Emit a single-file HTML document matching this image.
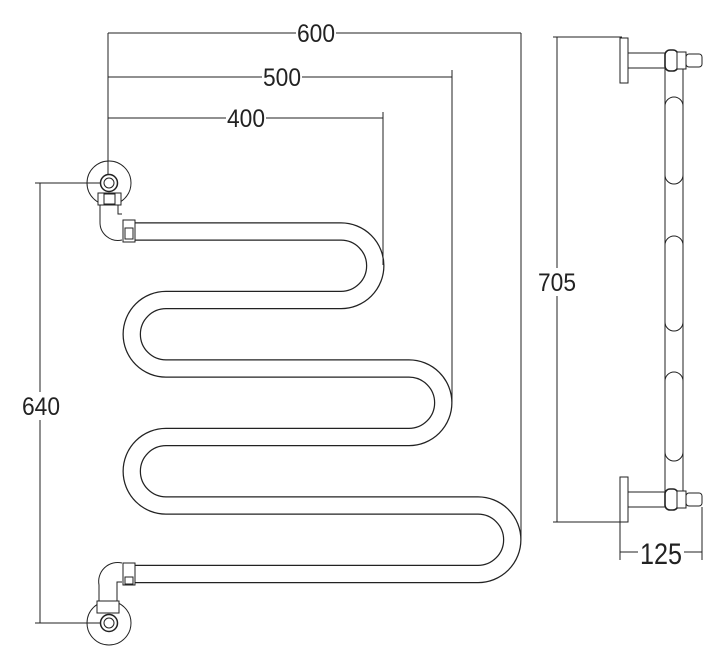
<!DOCTYPE html>
<html><head><meta charset="utf-8"><style>
html,body{margin:0;padding:0;background:#fff;}
svg{display:block;}
text{font-family:"Liberation Sans Narrow","Liberation Sans",sans-serif;fill:#222;}
</style></head><body>
<svg width="727" height="672" viewBox="0 0 727 672" xmlns="http://www.w3.org/2000/svg">
<g fill="none" stroke="#222" stroke-width="1">
<path d="M135,231.5 H341 A34.25,34.25 0 0 1 341,300 H166 A34.25,34.25 0 0 0 166,368.5 H409 A34.25,34.25 0 0 1 409,437 H166 A34.25,34.25 0 0 0 166,505.5 H478 A34.25,34.25 0 0 1 478,574 H135" stroke-width="18.5" stroke="#222"/>
<path d="M135,231.5 H341 A34.25,34.25 0 0 1 341,300 H166 A34.25,34.25 0 0 0 166,368.5 H409 A34.25,34.25 0 0 1 409,437 H166 A34.25,34.25 0 0 0 166,505.5 H478 A34.25,34.25 0 0 1 478,574 H135" stroke-width="16" stroke="#fff"/>

<line x1="108" y1="33" x2="521" y2="33"/>
<line x1="108" y1="33" x2="108" y2="183"/>
<line x1="521" y1="33" x2="521" y2="540"/>
<line x1="108" y1="77" x2="452" y2="77"/>
<line x1="452" y1="70" x2="452" y2="402"/>
<line x1="108" y1="118" x2="383" y2="118"/>
<line x1="383" y1="112" x2="383" y2="265"/>
<line x1="40" y1="183" x2="40" y2="623"/>
<line x1="35" y1="183" x2="109" y2="183"/>
<line x1="35" y1="623" x2="109" y2="623"/>
<line x1="557" y1="37" x2="557" y2="522"/>
<line x1="553" y1="37" x2="622" y2="37"/>
<line x1="553" y1="522" x2="622" y2="522"/>
<line x1="620" y1="522" x2="620" y2="560"/>
<line x1="702" y1="507" x2="702" y2="560"/>
<line x1="620" y1="552" x2="702" y2="552"/>

<circle cx="109" cy="183" r="22" fill="none"/>
<path d="M100,205 V222 A18,18 0 0 0 122,240 M118,205 V214 H122" />
<rect x="98" y="193" width="23" height="12" fill="#fff"/>
<rect x="104" y="194" width="11" height="10"/>
<circle cx="109" cy="183" r="8.5" fill="#fff" stroke-width="1.5"/>
<circle cx="109" cy="183" r="5"/>
<rect x="123" y="220" width="12" height="22" fill="#fff"/>
<rect x="125" y="228" width="8" height="11"/>

<circle cx="109" cy="623" r="22"/>
<path d="M99,601 V585 A19,19 0 0 1 122,563 M117,601 V582 H122"/>
<rect x="97" y="601" width="22" height="12" fill="#fff"/>
<circle cx="109" cy="623" r="8.5" fill="#fff" stroke-width="1.5"/>
<circle cx="109" cy="623" r="5"/>
<rect x="123" y="563" width="12" height="22" fill="#fff"/>
<rect x="125" y="577" width="8" height="7"/>

<line x1="665" y1="55" x2="665" y2="505"/>
<line x1="683" y1="55" x2="683" y2="505"/>
<path d="M665,106 A9,9 0 0 1 683,106 M665,175 A9,9 0 0 0 683,175"/>
<path d="M665,245 A9,9 0 0 1 683,245 M665,322 A9,9 0 0 0 683,322"/>
<path d="M665,381 A9,9 0 0 1 683,381 M665,452 A9,9 0 0 0 683,452"/>
<rect x="620" y="38" width="8" height="45" fill="#fff"/>
<rect x="628" y="53" width="40" height="15" fill="#fff"/>
<rect x="665" y="50" width="13" height="21" rx="5" fill="#fff" stroke-width="1.6"/>
<rect x="677" y="52" width="9" height="17" fill="#fff"/>
<rect x="686" y="54" width="16" height="13" rx="3" fill="#fff"/>
<rect x="620" y="477" width="8" height="45" fill="#fff"/>
<rect x="628" y="492" width="40" height="15" fill="#fff"/>
<rect x="665" y="489" width="13" height="21" rx="5" fill="#fff" stroke-width="1.6"/>
<rect x="677" y="491" width="9" height="17" fill="#fff"/>
<rect x="686" y="493" width="16" height="13" rx="3" fill="#fff"/>
</g>

<g font-size="25" text-anchor="middle">
<rect x="296" y="21" width="40" height="24" fill="#fff"/>
<text x="316" y="42" textLength="38" lengthAdjust="spacingAndGlyphs">600</text>
<rect x="262" y="65" width="40" height="24" fill="#fff"/>
<text x="282" y="86" textLength="38" lengthAdjust="spacingAndGlyphs">500</text>
<rect x="226" y="106" width="40" height="24" fill="#fff"/>
<text x="246" y="127" textLength="38" lengthAdjust="spacingAndGlyphs">400</text>
<rect x="20" y="392" width="42" height="28" fill="#fff"/>
<text x="41" y="415" textLength="38" lengthAdjust="spacingAndGlyphs">640</text>
<rect x="536" y="268" width="42" height="28" fill="#fff"/>
<text x="557" y="291" textLength="38" lengthAdjust="spacingAndGlyphs">705</text>
<rect x="638" y="538" width="46" height="30" fill="#fff"/>
<text x="661" y="564" font-size="30" textLength="42" lengthAdjust="spacingAndGlyphs">125</text>
</g>
</svg>
</body></html>
